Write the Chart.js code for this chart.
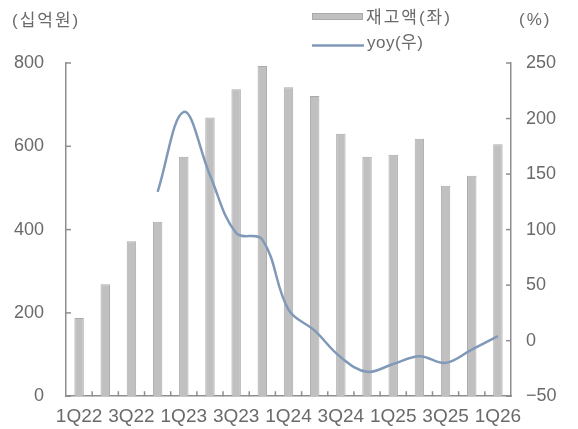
<!DOCTYPE html>
<html>
<head>
<meta charset="utf-8">
<script src="https://cdn.jsdelivr.net/npm/chart.js@4.4.1/dist/chart.umd.min.js"></script>
<style>
  html, body { margin: 0; padding: 0; background: #ffffff; }
  #wrap { width: 578px; height: 429px; position: relative; }
</style>
</head>
<body>
<div id="wrap"><canvas id="c"></canvas></div>
<script>
// Quarterly inventory (KRW bn, left axis) and its year-on-year change (%, right axis)
const quarters = ['1Q22','2Q22','3Q22','4Q22','1Q23','2Q23','3Q23','4Q23','1Q24','2Q24','3Q24','4Q24','1Q25','2Q25','3Q25','4Q25','1Q26'];
const inventory = [188, 269, 372, 419, 575, 669, 737, 793, 742, 721, 630, 575, 580, 618, 505, 529, 605];
const yoyPct = [null, null, null, 134, 206, 149, 97, 91, 28, 9, -15, -28, -21, -14, -20, -8, 4];
const seriesNames = ['재고액(좌)', 'yoy(우)'];
const unitLeft = '(십억원)';
const unitRight = '(%)';

const TEXT = '#6a6a6a';
const AXIS = '#8e8e8e';
const BAR_FILL = '#c0c0c0';
const BAR_EDGE = '#aaaaaa';
const LINE = '#8199b8';
const NUM_FONT = "'Liberation Sans', Arial, sans-serif";
const KR_FONT = "'Liberation Sans', 'Noto Sans CJK KR', sans-serif";

// Inward tick marks, unit captions and the two-row legend
const decor = {
  id: 'decor',
  afterDraw(chart) {
    const { ctx, chartArea: a, scales } = chart;
    const seg = (x1, y1, x2, y2) => { ctx.beginPath(); ctx.moveTo(x1, y1); ctx.lineTo(x2, y2); ctx.stroke(); };
    const spacing = v => { if ('letterSpacing' in ctx) ctx.letterSpacing = v; };
    ctx.save();
    ctx.strokeStyle = AXIS;
    ctx.lineWidth = 1.5;
    scales.y.ticks.forEach(t => { const py = scales.y.getPixelForValue(t.value); seg(a.left, py, a.left + 5, py); });
    scales.y1.ticks.forEach(t => { const py = scales.y1.getPixelForValue(t.value); seg(a.right - 5, py, a.right, py); });
    const xs = scales.x;
    for (let i = 1; i < xs.ticks.length; i++) {
      const px = (xs.getPixelForTick(i - 1) + xs.getPixelForTick(i)) / 2;
      seg(px, a.bottom, px, a.bottom - 5);
    }

    ctx.fillStyle = TEXT;
    ctx.textBaseline = 'middle';
    ctx.textAlign = 'left';
    ctx.font = "17px " + KR_FONT;
    spacing('2px');
    ctx.fillText(unitLeft, 12, 21);
    ctx.fillText(unitRight, 519, 20);

    // legend: bar swatch
    ctx.fillStyle = BAR_FILL;
    ctx.fillRect(312, 13, 51, 7);
    ctx.strokeStyle = BAR_EDGE; ctx.lineWidth = 1;
    ctx.strokeRect(312.5, 13.5, 50, 6);
    ctx.fillStyle = TEXT;
    ctx.fillText(seriesNames[0], 366, 18);
    // legend: line swatch
    ctx.strokeStyle = LINE; ctx.lineWidth = 2.5;
    seg(312, 45.5, 364, 45.5);
    spacing('0.5px');
    ctx.fillText(seriesNames[1], 367, 43);
    ctx.restore();
  }
};

new Chart(document.getElementById('c'), {
  data: {
    labels: quarters,
    datasets: [
      {
        type: 'line',
        label: seriesNames[1],
        data: yoyPct,
        yAxisID: 'y1',
        borderColor: LINE,
        borderWidth: 2.5,
        pointRadius: 0,
        tension: 0.38,
        spanGaps: false,
        order: 0
      },
      {
        type: 'bar',
        label: seriesNames[0],
        data: inventory,
        yAxisID: 'y',
        backgroundColor: BAR_FILL,
        borderColor: BAR_EDGE,
        borderWidth: 1,
        categoryPercentage: 1,
        barPercentage: 0.36,
        order: 1
      }
    ]
  },
  options: {
    responsive: true,
    maintainAspectRatio: false,
    animation: false,
    devicePixelRatio: 1,
    layout: { padding: { top: 63, left: 0, right: 0, bottom: 0 } },
    plugins: { legend: { display: false }, tooltip: { enabled: false } },
    scales: {
      x: {
        type: 'category',
        offset: true,
        grid: { display: false, drawTicks: false },
        border: { display: true, color: AXIS, width: 1.5 },
        ticks: {
          autoSkip: false, maxRotation: 0, minRotation: 0, padding: 9,
          color: TEXT, font: { family: NUM_FONT, size: 19 },
          callback: (v, i) => (i % 2 === 0 ? quarters[i] : '')
        },
        afterFit: s => { s.height = 30; }
      },
      y: {
        position: 'left',
        min: 0, max: 800,
        grid: { display: false, drawTicks: false },
        border: { display: true, color: AXIS, width: 1.5 },
        ticks: { stepSize: 200, padding: 22, color: TEXT, font: { family: NUM_FONT, size: 18 } },
        afterFit: s => { s.width = 66; }
      },
      y1: {
        position: 'right',
        min: -50, max: 250,
        grid: { display: false, drawTicks: false },
        border: { display: true, color: AXIS, width: 1.5 },
        ticks: {
          stepSize: 50, padding: 15, color: TEXT, font: { family: NUM_FONT, size: 18 },
          callback: v => (v < 0 ? '\u2212' + Math.abs(v) : String(v))
        },
        afterFit: s => { s.width = 67; }
      }
    }
  },
  plugins: [decor]
});
</script>
</body>
</html>
